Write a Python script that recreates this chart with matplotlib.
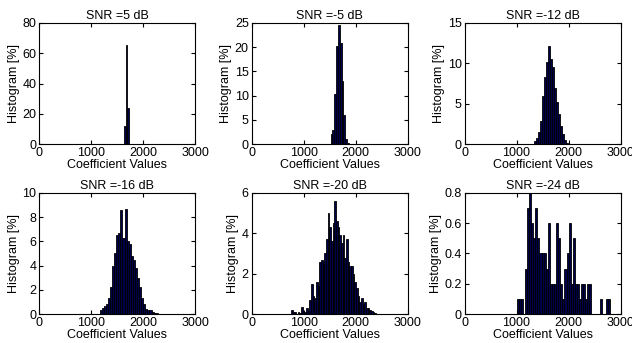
import matplotlib
matplotlib.use("Agg")
import matplotlib.pyplot as plt
from matplotlib.ticker import FuncFormatter

plt.rcParams['font.family'] = ['Liberation Sans', 'DejaVu Sans']
plt.rcParams['font.size'] = 9

# histogram data: first bin edge, bin width, bin heights [%]
titles = ['SNR =5 dB', 'SNR =-5 dB', 'SNR =-12 dB', 'SNR =-16 dB', 'SNR =-20 dB', 'SNR =-24 dB']
ymax = [80, 25, 15, 10, 6, 0.8]
ystep = [20, 5, 5, 2, 2, 0.2]

start_5db, width_5db = 1630, 30
hist_5db = [12, 65.5, 23.5]

start_m5db, width_m5db = 1520, 35
hist_m5db = [2.0, 2.9, 10.3, 20.2, 24.5, 20.8, 13.0, 6.0, 1.0, 0.3]

start_m12db, width_m12db = 1340, 38
hist_m12db = [0.4, 0.7, 1.5, 2.8, 5.9, 8.3, 10.2, 12.1, 10.5, 9.5, 7.0, 5.2, 3.7, 2.2,
              1.2, 0.5, 0.15]

start_m16db, width_m16db = 1160, 40
hist_m16db = [0.3, 0.5, 0.7, 0.8, 1.3, 2.2, 4.0, 5.0, 6.5, 6.7, 8.6, 6.3, 8.7, 6.0,
              5.8, 4.8, 4.5, 3.8, 3.0, 2.2, 1.3, 0.8, 0.4, 0.3, 0.3, 0.2, 0.1, 0.05]

start_m20db, width_m20db = 760, 32
hist_m20db = [0.2, 0.1, 0.1, 0.0, 0.1, 0.05, 0.33, 0.15, 0.1, 0.3, 0.15, 0.7, 1.5, 0.9,
              0.8, 1.6, 1.4, 2.6, 2.7, 2.6, 3.0, 3.7, 5.0, 4.3, 3.6, 4.5, 5.6, 4.6,
              4.3, 3.9, 3.5, 3.9, 2.8, 3.7, 2.6, 2.4, 2.4, 2.0, 1.6, 1.3, 0.9, 0.6,
              0.8, 0.5, 0.6, 0.3, 0.3, 0.2, 0.15, 0.1, 0.05]

start_m24db, width_m24db = 1000, 40
hist_m24db = [0.1, 0.1, 0.1, 0.0, 0.3, 0.7, 0.8, 0.6, 0.5, 0.7, 0.5, 0.4, 0.4, 0.4,
              0.3, 0.6, 0.2, 0.2, 0.2, 0.6, 0.5, 0.2, 0.1, 0.3, 0.4, 0.6, 0.2, 0.5,
              0.2, 0.2, 0.1, 0.2, 0.2, 0.1, 0.2, 0.2, 0.0, 0.0, 0.0, 0.0, 0.1, 0.0,
              0.0, 0.1, 0.1]

panels = [(start_5db, width_5db, hist_5db), (start_m5db, width_m5db, hist_m5db),
          (start_m12db, width_m12db, hist_m12db), (start_m16db, width_m16db, hist_m16db),
          (start_m20db, width_m20db, hist_m20db), (start_m24db, width_m24db, hist_m24db)]

fig = plt.figure(figsize=(6.32, 3.43), dpi=100)
lefts = [0.062, 0.398, 0.735]
bottoms = [0.580, 0.0845]
W, H = 0.247, 0.353

fmt = FuncFormatter(lambda v, p: '%g' % v)

for i, (start, width, heights) in enumerate(panels):
    ax = fig.add_axes([lefts[i % 3], bottoms[i // 3], W, H])
    edges = [start + k * width for k in range(len(heights))]
    ax.bar(edges, heights, width=width, align='edge', color='#00004a',
           edgecolor='black', linewidth=0.6)
    ax.set_xlim(0, 3000)
    ax.set_ylim(0, ymax[i])
    ax.set_xticks([0, 1000, 2000, 3000])
    n = int(round(ymax[i] / ystep[i]))
    ax.set_yticks([k * ystep[i] for k in range(n + 1)])
    ax.yaxis.set_major_formatter(fmt)
    ax.tick_params(direction='in', length=3, top=True, right=True, pad=2, labelsize=9)
    ax.set_title(titles[i], fontsize=9, pad=3)
    ax.set_xlabel('Coefficient Values', fontsize=9, labelpad=0)
    ax.set_ylabel('Histogram [%]', fontsize=9, labelpad=2)
    for s in ax.spines.values():
        s.set_linewidth(0.8)

fig.savefig('out.png', dpi=100)
